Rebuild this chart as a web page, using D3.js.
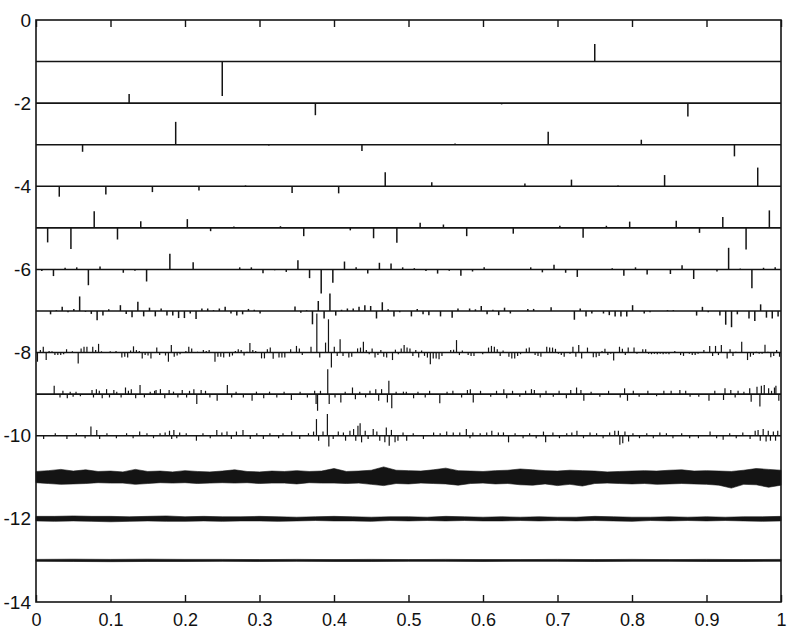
<!DOCTYPE html>
<html>
<head>
<meta charset="utf-8">
<script src="https://cdn.jsdelivr.net/npm/d3@7"></script>
<style>
  body { margin: 0; background: #fff; }
  text { font-family: "Liberation Sans", Arial, Helvetica, sans-serif; fill: #111; }
</style>
</head>
<body>
<div id="chart"></div>
<script>
// tick labels
const xTicks = [0, 0.1, 0.2, 0.3, 0.4, 0.5, 0.6, 0.7, 0.8, 0.9, 1];
const yTicks = [0, -2, -4, -6, -8, -10, -12, -14];

// coarse levels: every coefficient, offset from the level's baseline (plot units)
const level1 = [-0.83, 0.42];
const level2 = [0.22, -0.29, -0.03, -0.32];
const level3 = [-0.17, 0.55, -0.02, -0.15, 0.03, 0.31, 0.12, -0.28];
const level4 = [-0.25, -0.2, -0.14, -0.1, 0.02, -0.16, -0.17, 0.34,
  0.1, 0, 0.07, 0.16, 0.02, 0.27, 0, 0.45];
const level5 = [-0.35, -0.51, 0.4, -0.28, 0.16, 0, 0.21, -0.08,
  0.03, 0.01, 0.04, -0.2, 0.01, -0.06, -0.25, -0.36,
  0.12, 0.08, -0.2, 0.01, -0.14, 0.01, 0.05, -0.24,
  0.05, 0.15, 0.01, 0.17, -0.12, 0.26, -0.52, 0.42];
const level6 = [-0.04, -0.16, 0.04, 0.05, -0.38, 0.07, 0.01, -0.08,
  -0.03, -0.29, 0.01, 0.38, 0.01, 0.17, 0.01, 0.01,
  0.01, 0.05, 0.05, -0.09, -0.02, -0.06, 0.22, -0.21,
  -0.58, -0.32, 0.19, 0.05, -0.1, 0.16, 0.14, 0.05,
  0.03, -0.04, -0.1, -0.03, -0.15, -0.05, 0.05, 0.01,
  0.01, 0.01, 0.05, -0.07, 0.11, -0.08, -0.18, 0.01,
  0.01, 0.03, -0.15, 0.05, -0.12, 0.01, -0.11, 0.1,
  -0.23, 0.01, -0.05, 0.52, 0.02, -0.45, 0.04, 0.05];

// finer levels: only the visible coefficients, as [index, value]
const level7 = [[2,-0.08],[3,0.02],[4,0.1],[5,-0.03],[6,0.05],[7,0.35],[8,-0.02],[9,-0.07],[10,-0.22],
  [11,-0.11],[12,0.04],[14,0.14],[15,-0.07],[16,-0.15],[17,0.22],[18,-0.13],[19,0.08],[20,-0.13],
  [21,0.06],[22,-0.11],[23,-0.11],[24,-0.17],[25,-0.17],[26,-0.06],[27,-0.19],[28,0.06],[29,0.06],
  [30,0.02],[31,0.06],[32,0.1],[33,-0.06],[34,-0.11],[35,-0.08],[36,0.05],[37,0.03],[38,-0.06],
  [44,0.11],[45,-0.04],[46,0.02],[47,-0.32],[48,0.24],[49,-0.18],[50,0.42],[51,-0.11],[52,0.03],
  [53,0.06],[54,0.06],[55,0.1],[56,0.14],[57,0.12],[58,-0.18],[59,0.21],[60,0.04],[61,-0.13],
  [62,-0.03],[64,-0.13],[65,0.05],[66,-0.08],[67,-0.1],[69,-0.13],[71,-0.16],[72,0.06],[74,0.06],
  [75,0.04],[76,0.12],[77,-0.08],[78,0.03],[79,-0.1],[80,0.08],[81,-0.06],[84,0.05],[85,0.05],
  [88,0.09],[92,-0.21],[93,0.06],[94,-0.13],[95,-0.06],[97,-0.06],[98,-0.1],[99,-0.13],[100,-0.13],
  [101,-0.13],[102,0.14],[104,-0.06],[105,-0.03],[108,0.02],[109,0.02],[113,-0.11],[114,0.1],
  [115,-0.03],[117,-0.11],[118,-0.33],[119,-0.39],[120,-0.08],[122,-0.18],[123,-0.24],[124,0.16],
  [125,-0.16],[126,-0.18],[127,-0.13]];

const level8 = [[0,-0.22],[1,0.06],[2,0.14],[3,-0.18],[4,0.04],[5,0.03],[6,-0.06],[7,-0.06],[8,-0.06],
  [9,-0.04],[10,0.08],[12,0.03],[14,-0.26],[15,0.1],[16,0.14],[17,0.14],[19,0.14],[20,0.06],[21,0.21],
  [22,0.03],[25,0.03],[27,0.04],[29,-0.12],[30,-0.1],[31,-0.12],[32,0.05],[33,0.15],[34,0.06],
  [35,0.04],[36,-0.14],[37,-0.06],[38,-0.07],[39,-0.14],[41,0.12],[42,-0.06],[44,-0.07],[45,-0.22],
  [46,0.18],[47,-0.1],[48,-0.07],[49,-0.04],[51,0.04],[52,0.14],[53,0.1],[55,0.02],[57,0.06],
  [58,0.04],[59,0.06],[61,-0.22],[62,-0.1],[63,-0.1],[64,-0.12],[66,-0.1],[67,-0.07],[68,0.04],
  [69,0.08],[70,0.06],[71,-0.07],[72,0.02],[73,0.23],[74,0.06],[75,0.04],[77,-0.14],[78,-0.14],
  [79,0.08],[80,0.12],[81,-0.15],[83,-0.12],[84,-0.12],[85,-0.12],[87,0.08],[89,0.16],[90,0.1],
  [91,-0.06],[94,0.14],[96,0.94],[97,-0.12],[99,0.24],[100,0.8],[101,-0.36],[102,0.14],[103,-0.08],
  [104,0.32],[105,-0.08],[107,-0.12],[108,-0.1],[110,0.1],[111,0.12],[112,0.26],[113,0.06],
  [114,-0.04],[115,0.1],[116,-0.12],[117,-0.06],[118,0.06],[119,-0.1],[120,-0.12],[122,-0.18],
  [123,0.07],[124,-0.04],[125,0.1],[126,0.18],[127,0.12],[128,0.1],[129,-0.08],[130,0.06],
  [131,-0.12],[132,0.05],[133,-0.08],[134,-0.12],[135,-0.28],[136,-0.14],[137,-0.14],[138,-0.16],
  [139,-0.08],[142,0.06],[143,0.07],[144,0.3],[145,-0.06],[146,0.05],[148,-0.06],[149,-0.08],
  [150,-0.08],[153,-0.04],[155,0.12],[156,0.16],[157,0.14],[158,0.08],[159,-0.08],[160,0.05],
  [162,-0.1],[163,-0.14],[164,-0.14],[165,-0.08],[166,-0.04],[168,0.1],[169,0.12],[171,-0.06],
  [172,-0.08],[173,-0.1],[175,0.14],[176,0.12],[177,0.12],[178,0.09],[179,-0.03],[180,-0.06],
  [181,-0.1],[183,-0.03],[184,0.14],[185,-0.1],[186,0.18],[187,-0.14],[189,0.12],[191,-0.11],
  [192,-0.11],[193,-0.08],[194,0.04],[195,0.09],[196,-0.06],[197,-0.03],[198,-0.19],[200,0.14],
  [201,0.09],[202,-0.06],[203,0.12],[205,0.12],[206,-0.03],[208,0.08],[209,0.08],[210,-0.03],
  [211,-0.04],[212,-0.03],[213,-0.04],[214,-0.03],[215,-0.04],[216,-0.03],[217,-0.04],[219,0.04],
  [221,-0.06],[222,-0.08],[224,-0.03],[225,-0.06],[226,-0.06],[227,-0.03],[229,0.06],[231,0.16],
  [232,-0.08],[233,0.16],[234,-0.06],[235,0.18],[237,-0.14],[238,0.08],[239,-0.08],[240,0.02],
  [242,0.26],[244,-0.18],[245,-0.1],[246,-0.06],[247,0.02],[248,-0.03],[249,-0.03],[250,0.19],
  [251,0.02],[252,-0.11],[253,-0.08],[254,0.06],[255,-0.1]];

const level9 = [[12,0.2],[16,-0.08],[18,0.08],[21,-0.1],[23,0.06],[25,-0.06],[27,0.06],[30,-0.05],
  [38,0.1],[39,-0.08],[41,0.12],[43,0.08],[45,-0.1],[48,0.12],[50,-0.08],[53,0.1],[55,0.06],
  [58,-0.08],[61,0.16],[63,0.08],[65,0.12],[68,-0.1],[71,0.22],[74,-0.08],[78,0.06],[81,0.08],
  [82,0.1],[85,0.12],[88,-0.1],[91,0.1],[94,0.06],[97,-0.08],[100,0.1],[103,-0.08],[105,0.08],
  [108,0.12],[110,-0.24],[113,0.1],[116,0.08],[119,-0.08],[124,-0.16],[131,0.22],[134,-0.08],
  [137,0.06],[142,-0.08],[148,-0.16],[151,0.06],[156,-0.1],[160,0.06],[165,-0.08],[170,0.06],
  [175,-0.14],[181,0.06],[186,-0.08],[191,0.08],[192,-0.24],[193,-0.4],[195,0.08],[200,0.6],
  [201,-0.24],[205,-0.08],[209,-0.2],[212,0.06],[217,0.16],[219,-0.12],[222,0.06],[226,-0.08],
  [229,0.08],[233,0.12],[235,-0.16],[237,0.12],[241,-0.2],[242,0.32],[244,-0.34],[247,0.06],
  [252,0.06],[254,0.06],[259,-0.1],[262,0.06],[267,-0.08],[270,0.08],[277,-0.22],[282,0.06],
  [286,0.08],[292,-0.08],[296,0.1],[298,0.12],[300,-0.2],[305,0.08],[312,-0.06],[316,0.08],
  [321,0.12],[323,-0.1],[327,0.08],[332,-0.06],[336,0.08],[340,0.12],[342,0.1],[346,-0.08],
  [350,0.08],[355,-0.06],[359,0.08],[364,-0.1],[367,0.1],[371,0.16],[374,0.1],[376,-0.16],
  [381,0.06],[387,-0.06],[393,0.08],[401,-0.08],[404,0.14],[406,-0.16],[410,0.08],[414,-0.06],
  [420,0.08],[426,-0.05],[431,0.08],[436,0.08],[442,0.1],[446,0.08],[449,-0.06],[455,-0.06],
  [462,-0.16],[466,0.08],[472,-0.14],[473,0.14],[477,0.1],[480,-0.08],[482,0.08],[486,0.06],
  [490,0.14],[491,-0.18],[495,0.18],[497,-0.3],[498,0.2],[500,0.22],[503,0.14],[505,0.08],
  [507,0.16],[508,0.2],[510,-0.16]];

const level10 = [[10,-0.08],[26,0.06],[42,-0.08],[55,0.06],[67,-0.06],[75,0.22],[83,0.14],[87,-0.08],
  [97,0.06],[110,-0.06],[124,0.06],[133,-0.06],[142,0.1],[152,0.06],[161,-0.06],[170,0.06],
  [177,0.08],[183,0.12],[186,-0.08],[189,0.14],[193,-0.06],[197,0.08],[206,0.06],[220,-0.12],
  [229,0.06],[239,-0.06],[248,0.14],[255,0.08],[262,0.1],[268,-0.08],[275,0.1],[284,0.14],
  [294,-0.08],[303,0.06],[312,-0.08],[321,0.06],[333,-0.06],[339,0.06],[351,0.1],[362,-0.08],
  [374,0.06],[381,0.1],[385,0.4],[388,-0.12],[394,0.1],[400,0.52],[402,-0.26],[408,-0.08],
  [415,0.1],[422,0.08],[425,-0.12],[431,0.12],[436,0.16],[439,-0.12],[442,0.24],[445,0.3],
  [447,-0.16],[452,0.12],[456,-0.08],[463,0.16],[468,0.1],[472,-0.12],[479,-0.16],[481,0.2],
  [485,-0.24],[488,0.14],[493,-0.16],[497,-0.12],[504,0.08],[509,-0.12],[518,0.06],[532,-0.08],
  [546,0.08],[555,0.06],[564,0.1],[573,0.08],[582,0.08],[591,0.16],[596,-0.06],[600,0.08],
  [610,0.06],[619,0.08],[626,0.12],[635,0.08],[642,0.08],[649,-0.16],[658,0.06],[669,-0.06],
  [678,0.06],[687,-0.06],[697,0.1],[700,-0.16],[710,0.08],[719,-0.06],[729,0.06],[736,0.08],
  [743,0.12],[752,-0.06],[761,0.08],[770,0.06],[779,-0.06],[788,0.08],[795,0.12],[800,0.12],
  [802,-0.22],[806,-0.18],[809,0.1],[814,-0.14],[820,0.06],[829,-0.06],[839,0.06],[848,-0.06],
  [857,0.08],[866,0.06],[875,-0.06],[887,0.06],[898,-0.06],[910,-0.06],[926,0.1],[935,-0.06],
  [944,-0.1],[953,0.06],[962,-0.06],[971,0.08],[981,-0.08],[988,0.12],[992,0.14],[995,-0.12],
  [999,0.16],[1003,-0.14],[1006,0.12],[1009,-0.12],[1013,0.1],[1016,-0.12],[1019,0.12]];

// finest levels: too dense to separate, kept as the band's upper and lower reach
const level11Upper = [0.14,0.16,0.19,0.15,0.18,0.14,0.15,0.13,0.19,0.14,0.15,0.13,0.16,0.14,0.13,0.15,
  0.18,0.14,0.13,0.15,0.14,0.16,0.14,0.15,0.21,0.14,0.15,0.17,0.25,0.17,0.16,0.15,0.18,0.22,0.16,
  0.15,0.14,0.16,0.17,0.2,0.18,0.16,0.15,0.17,0.16,0.15,0.13,0.14,0.15,0.16,0.15,0.17,0.18,0.15,
  0.16,0.15,0.14,0.17,0.21,0.19,0.17];
const level11Lower = [0.13,0.15,0.17,0.16,0.15,0.13,0.14,0.14,0.17,0.15,0.13,0.14,0.13,0.15,0.14,0.13,
  0.14,0.13,0.15,0.14,0.14,0.16,0.13,0.14,0.14,0.15,0.14,0.17,0.2,0.15,0.16,0.14,0.15,0.16,0.19,
  0.15,0.14,0.16,0.15,0.18,0.19,0.16,0.2,0.17,0.21,0.15,0.14,0.15,0.16,0.15,0.17,0.16,0.15,0.16,
  0.17,0.19,0.26,0.17,0.18,0.24,0.19];
const level12Upper = [0.06,0.06,0.07,0.06,0.06,0.05,0.06,0.07,0.05,0.06,0.05,0.05,0.06,0.05,0.04,0.05,
  0.06,0.05,0.04,0.05,0.05,0.04,0.06,0.05,0.04,0.05,0.04,0.05,0.04,0.04,0.06,0.05,0.04,0.04,0.05,
  0.04,0.05,0.04,0.05,0.05,0.06];
const level12Lower = [0.05,0.06,0.05,0.06,0.07,0.06,0.05,0.06,0.06,0.05,0.06,0.05,0.05,0.06,0.05,0.04,
  0.05,0.05,0.06,0.04,0.05,0.04,0.05,0.04,0.05,0.05,0.04,0.05,0.04,0.05,0.04,0.05,0.06,0.04,0.05,
  0.04,0.05,0.04,0.05,0.06,0.05];
const level13Upper = [0.025,0.03,0.025,0.03,0.025,0.025,0.02,0.025,0.02,0.025,0.02,0.025,0.02,0.02,
  0.025,0.02,0.025,0.02,0.025,0.02,0.025];
const level13Lower = [0.02,0.025,0.03,0.025,0.025,0.02,0.025,0.02,0.025,0.025,0.02,0.02,0.025,0.02,
  0.02,0.025,0.02,0.02,0.025,0.025,0.02];

const width = 800, height = 642;
const ink = "#141414";

const svg = d3.select("#chart").append("svg")
  .attr("width", width)
  .attr("height", height);

const x = d3.scaleLinear().domain([0, 1]).range([36, 781]);
const y = d3.scaleLinear().domain([-14, 0]).range([602, 20]);

// baselines for every level
svg.append("g").selectAll("line")
  .data(d3.range(1, 14))
  .enter().append("line")
  .attr("x1", x(0)).attr("x2", x(1))
  .attr("y1", d => y(-d)).attr("y2", d => y(-d))
  .style("stroke", ink)
  .style("stroke-width", 1.6);

// spikes: a coefficient k of level j sits at (k + 0.5) / 2^j
const denseLevels = [level1, level2, level3, level4, level5, level6];
const sparseLevels = [level7, level8, level9, level10];

let spikes = [];
denseLevels.forEach((vals, i) => {
  const j = i + 1;
  vals.forEach((v, k) => { if (v !== 0) spikes.push({ j: j, k: k, v: v }); });
});
sparseLevels.forEach((pairs, i) => {
  const j = i + 7;
  pairs.forEach(p => spikes.push({ j: j, k: p[0], v: p[1] }));
});

svg.append("g").selectAll("line")
  .data(spikes)
  .enter().append("line")
  .attr("x1", d => x((d.k + 0.5) / Math.pow(2, d.j)))
  .attr("x2", d => x((d.k + 0.5) / Math.pow(2, d.j)))
  .attr("y1", d => y(-d.j))
  .attr("y2", d => y(-d.j + d.v))
  .style("stroke", ink)
  .style("stroke-width", d => d.j <= 7 ? 1.5 : 1.2);

// dense bands
const bands = [
  { j: 11, upper: level11Upper, lower: level11Lower },
  { j: 12, upper: level12Upper, lower: level12Lower },
  { j: 13, upper: level13Upper, lower: level13Lower }
];

bands.forEach(b => {
  const n = b.upper.length;
  const area = d3.area()
    .x((d, i) => x(i / (n - 1)))
    .y0((d, i) => y(-b.j - b.lower[Math.round(i * (b.lower.length - 1) / (n - 1))]))
    .y1(d => y(-b.j + d));
  svg.append("path")
    .datum(b.upper)
    .attr("d", area)
    .style("fill", ink)
    .style("stroke", ink)
    .style("stroke-width", 0.6);
});

// axes
const xAxis = d3.axisBottom(x)
  .tickValues(xTicks)
  .tickSizeInner(-7)
  .tickSizeOuter(0)
  .tickPadding(11)
  .tickFormat(d => String(d));

const gx = svg.append("g")
  .attr("transform", "translate(0," + y(-14) + ")")
  .call(xAxis);

const xTop = d3.axisTop(x)
  .tickValues(xTicks)
  .tickSizeInner(-7)
  .tickSizeOuter(0)
  .tickFormat("");

const gt = svg.append("g")
  .attr("transform", "translate(0," + y(0) + ")")
  .call(xTop);

const yAxis = d3.axisLeft(y)
  .tickValues(yTicks)
  .tickSizeInner(0)
  .tickSizeOuter(0)
  .tickPadding(5)
  .tickFormat(d => String(d));

const gy = svg.append("g")
  .attr("transform", "translate(" + x(0) + ",0)")
  .call(yAxis);

[gx, gt, gy].forEach(g => {
  g.select(".domain").remove();
  g.selectAll(".tick line").style("stroke", ink).style("stroke-width", 1.4);
});
gx.selectAll("text").style("font-size", "18px");
gy.selectAll("text").style("font-size", "19px");

// frame
svg.append("rect")
  .attr("x", x(0)).attr("y", y(0))
  .attr("width", x(1) - x(0))
  .attr("height", y(-14) - y(0))
  .style("fill", "none")
  .style("stroke", ink)
  .style("stroke-width", 1.6);
</script>
</body>
</html>
